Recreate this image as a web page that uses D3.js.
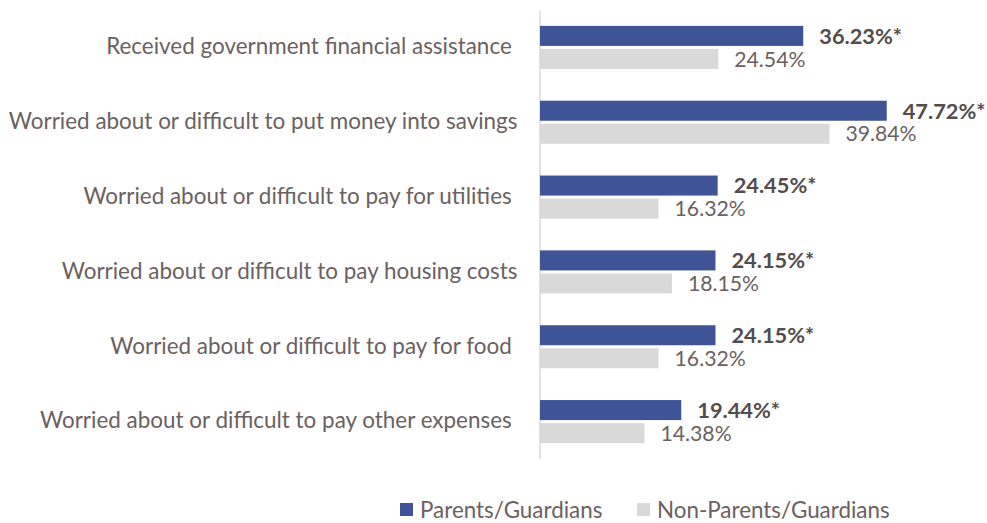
<!DOCTYPE html>
<html>
<head>
<meta charset="utf-8">
<script src="https://cdn.jsdelivr.net/npm/d3@7"></script>
<style>
  html, body { margin: 0; padding: 0; background: #fff; }
  svg { display: block; }
  .tick text { white-space: pre; }
</style>
</head>
<body>
<svg id="chart" width="987" height="523"></svg>
<script>
// Financial hardship indicators by parental status (%)
const categories = [
  "Received government financial assistance ",
  "Worried about or difficult to put money into savings",
  "Worried about or difficult to pay for utilities ",
  "Worried about or difficult to pay housing costs",
  "Worried about or difficult to pay for food ",
  "Worried about or difficult to pay other expenses "
];
const seriesNames = ["Parents/Guardians", "Non-Parents/Guardians"];
const parentsValues = [36.23, 47.72, 24.45, 24.15, 24.15, 19.44];
const nonParentsValues = [24.54, 39.84, 16.32, 18.15, 16.32, 14.38];
// Statistically significant differences are flagged with an asterisk
const parentsFlags = ["*", "*", "*", "*", "*", "*"];

const colors = { "Parents/Guardians": "#3F5497", "Non-Parents/Guardians": "#D9D9D9" };
const fontFamily = "Lato, 'Noto Sans', 'DejaVu Sans', sans-serif";
const labelColor = "#6B6161";
const valueColor = "#544C4C";

const svg = d3.select("#chart");

const x = d3.scaleLinear().domain([0, 50]).range([540, 540 + 363.3]);
const y = d3.scaleBand().domain(categories).range([10, 459]).padding(0);
const inner = d3.scaleBand().domain(seriesNames).range([0, y.bandwidth()])
  .paddingInner(0.13).paddingOuter(0.69);

const rows = categories.map((c, i) => ({
  category: c,
  values: [
    { series: seriesNames[0], value: parentsValues[i], flag: parentsFlags[i] },
    { series: seriesNames[1], value: nonParentsValues[i], flag: "" }
  ]
}));

// Category axis
const axis = svg.append("g")
  .attr("transform", `translate(${x(0) - 0.5},0)`)
  .call(d3.axisLeft(y).tickSize(0).tickPadding(22));
axis.select(".domain").attr("stroke", "#D9D9D9").attr("stroke-width", 1.5);
axis.selectAll(".tick text")
  .attr("fill", labelColor)
  .attr("font-family", fontFamily)
  .attr("font-size", 20)
  .attr("dy", "0.3em");

// Fit category labels so the longest spans the available width
let maxW = 0;
axis.selectAll(".tick text").each(function () { maxW = Math.max(maxW, this.getComputedTextLength()); });
const catSize = 20 * 509 / maxW;
axis.selectAll(".tick text").attr("font-size", catSize);

// Bars
const groups = svg.append("g").selectAll("g")
  .data(rows).join("g")
  .attr("transform", d => `translate(0,${y(d.category)})`);

groups.selectAll("rect")
  .data(d => d.values).join("rect")
  .attr("x", x(0))
  .attr("y", d => inner(d.series))
  .attr("width", d => x(d.value) - x(0))
  .attr("height", inner.bandwidth())
  .attr("fill", d => colors[d.series]);

// Value labels
groups.selectAll("text.value")
  .data(d => d.values).join("text")
  .attr("class", "value")
  .attr("x", d => x(d.value) + 16)
  .attr("y", d => inner(d.series) + inner.bandwidth() / 2)
  .attr("dy", "0.36em")
  .attr("font-family", fontFamily)
  .attr("font-size", d => d.series === seriesNames[0] ? 21.8 : 21.2)
  .attr("font-weight", d => d.series === seriesNames[0] ? 700 : 400)
  .attr("fill", d => d.series === seriesNames[0] ? valueColor : labelColor)
  .text(d => d3.format(".2f")(d.value) + "%" + d.flag);

// Legend
const legendItems = [
  { name: seriesNames[0], x: 400 },
  { name: seriesNames[1], x: 637 }
];
const legend = svg.append("g").selectAll("g")
  .data(legendItems).join("g")
  .attr("transform", d => `translate(${d.x},503)`);
legend.append("rect")
  .attr("width", 13).attr("height", 13)
  .attr("fill", d => colors[d.name]);
legend.append("text")
  .attr("x", 20).attr("y", 7).attr("dy", "0.36em")
  .attr("font-family", fontFamily)
  .attr("font-size", 22.4)
  .attr("fill", labelColor)
  .text(d => d.name);
</script>
</body>
</html>
